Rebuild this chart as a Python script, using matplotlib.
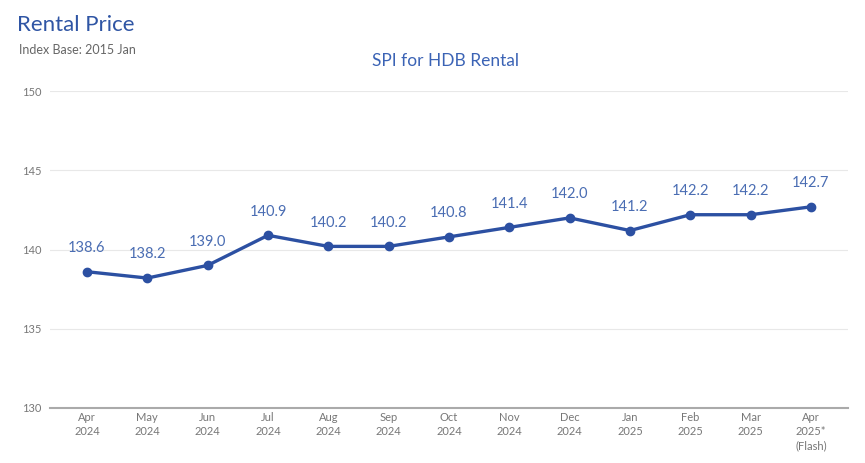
import matplotlib
matplotlib.use("Agg")
import matplotlib.pyplot as plt

plt.rcParams['font.family'] = ['Lato', 'DejaVu Sans']

months = ["Apr\n2024", "May\n2024", "Jun\n2024", "Jul\n2024", "Aug\n2024", "Sep\n2024",
          "Oct\n2024", "Nov\n2024", "Dec\n2024", "Jan\n2025", "Feb\n2025", "Mar\n2025",
          "Apr\n2025*\n(Flash)"]
spi = [138.6, 138.2, 139.0, 140.9, 140.2, 140.2, 140.8, 141.4, 142.0, 141.2, 142.2, 142.2, 142.7]
y_ticks = [130, 135, 140, 145, 150]

line_color = '#2c50a2'
label_color = '#4a6db3'

fig = plt.figure(figsize=(8.65, 4.63), dpi=100)
ax = fig.add_axes([0.0578, 0.119, 0.9225, 0.684])

x = list(range(len(months)))
ax.plot(x, spi, color=line_color, lw=2.4, marker='o', ms=6, zorder=3)
for xi, v in zip(x, spi):
    ax.annotate("{:.1f}".format(v), (xi, v), xytext=(0, 12), textcoords='offset points',
                ha='center', va='bottom', color=label_color, fontsize=10.5)

ax.set_xlim(-0.613, len(months) - 1 + 0.613)
ax.set_ylim(130, 150)
ax.set_yticks(y_ticks)
ax.set_xticks(x)
ax.set_xticklabels(months, color='#777777', fontsize=8, linespacing=1.35)
ax.tick_params(axis='y', colors='#777777', labelsize=8, length=0, pad=6)
ax.tick_params(axis='x', length=0, pad=3)
ax.grid(axis='y', color='#e8e8e8', lw=0.8)
ax.set_axisbelow(True)
for s in ['top', 'right', 'left']:
    ax.spines[s].set_visible(False)
ax.spines['bottom'].set_color('#aaaaaa')
ax.spines['bottom'].set_linewidth(1.5)

fig.text(0.020, 0.945, "Rental Price", color='#2f55a4', fontsize=16, va='center')
fig.text(0.022, 0.892, "Index Base: 2015 Jan", color='#666666', fontsize=9, va='center')
fig.text(0.515, 0.868, "SPI for HDB Rental", color='#3b63b5', fontsize=12.5, ha='center', va='center')

fig.savefig('out.png', dpi=100)
